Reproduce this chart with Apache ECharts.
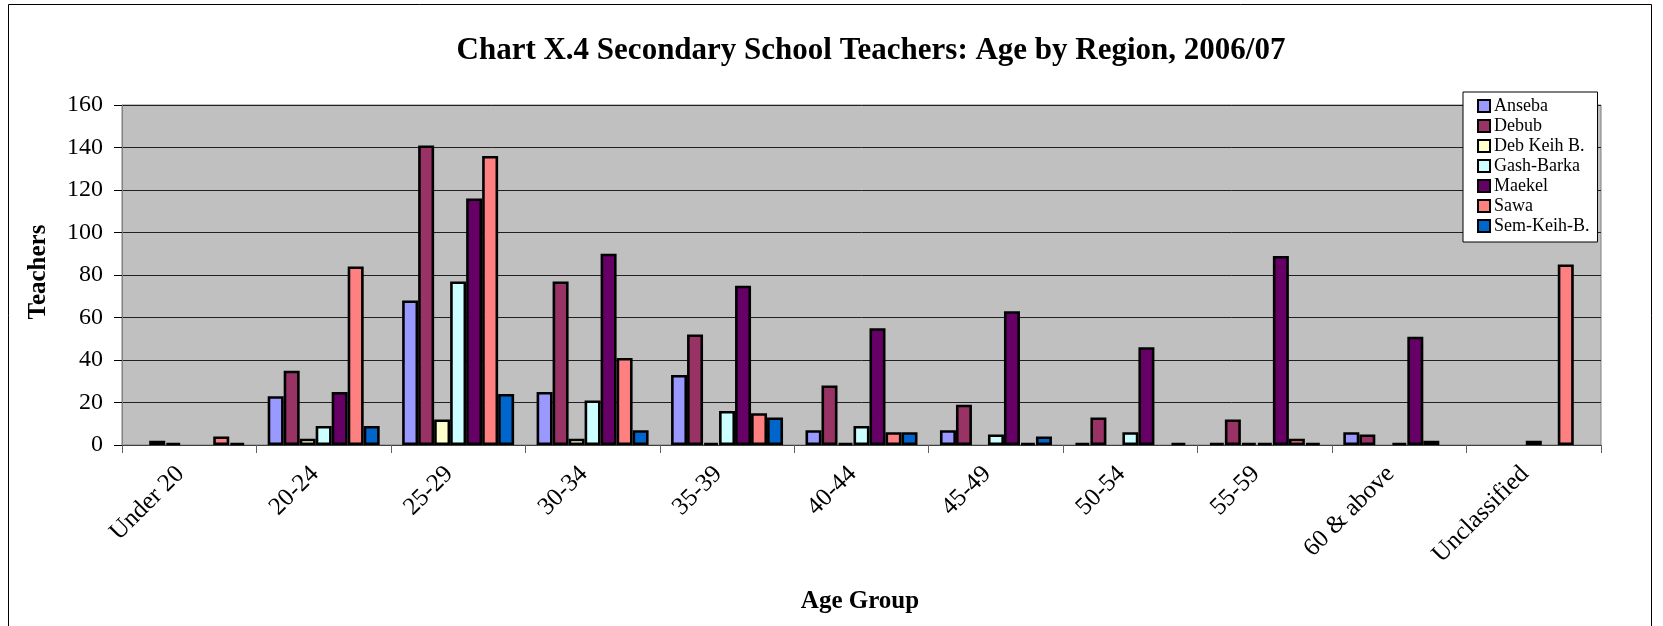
<!DOCTYPE html>
<html>
<head>
<meta charset="utf-8">
<title>Secondary School Teachers: Age by Region, 2006/07</title>
<script src="https://cdn.jsdelivr.net/npm/echarts@6/dist/echarts.min.js"></script>
<style>
  html, body { margin: 0; padding: 0; background: #ffffff; }
  #chart { width: 1663px; height: 626px; }
</style>
</head>
<body>
<div id="chart"></div>
<script>
// Age groups on the category axis
const ageGroups = ['Under 20', '20-24', '25-29', '30-34', '35-39', '40-44', '45-49', '50-54', '55-59', '60 & above', 'Unclassified'];

// Teachers per region for each age group
const anseba    = [0, 23, 68, 25, 33, 7, 7, 1, 1, 6, 0];
const debub     = [2, 35, 141, 77, 52, 28, 19, 13, 12, 5, 0];
const debKeihB  = [1, 3, 12, 3, 1, 1, 0, 0, 1, 0, 0];
const gashBarka = [0, 9, 77, 21, 16, 9, 5, 6, 1, 1, 2];
const maekel    = [0, 25, 116, 90, 75, 55, 63, 46, 89, 51, 0];
const sawa      = [4, 84, 136, 41, 15, 6, 1, 0, 3, 2, 85];
const semKeihB  = [1, 9, 24, 7, 13, 6, 4, 1, 1, 0, 0];

const regionNames = ['Anseba', 'Debub', 'Deb Keih B.', 'Gash-Barka', 'Maekel', 'Sawa', 'Sem-Keih-B.'];
const regionValues = [anseba, debub, debKeihB, gashBarka, maekel, sawa, semKeihB];
const regionColors = ['#9999FF', '#993366', '#FFFFCC', '#CCFFFF', '#660066', '#FF8080', '#0066CC'];

// Value axis ticks
const yMin = 0, yMax = 160, yStep = 20;

const serif = '"Liberation Serif", "Times New Roman", serif';

const chart = echarts.init(document.getElementById('chart'), null, { renderer: 'canvas' });

// Zero counts are left empty so no outlined sliver is drawn on the axis
const series = regionNames.map((name, i) => ({
  name: name,
  type: 'bar',
  data: regionValues[i].map(v => (v === 0 ? '-' : v)),
  barGap: '0%',
  barCategoryGap: '16.7%',
  itemStyle: { color: regionColors[i], borderColor: '#000000', borderWidth: 2.6 },
  emphasis: { disabled: true }
}));

chart.setOption({
  animation: false,
  backgroundColor: '#ffffff',
  textStyle: { fontFamily: serif },
  grid: {
    left: 122, right: 62, top: 105, bottom: 181,
    show: true,
    backgroundColor: '#C0C0C0',
    borderColor: '#808080',
    borderWidth: 1,
    containLabel: false
  },
  legend: {
    left: 1463, top: 92,
    orient: 'vertical',
    backgroundColor: '#ffffff',
    borderColor: '#000000',
    borderWidth: 1,
    padding: [4, 8, 6, 14],
    itemGap: 0,
    itemWidth: 12, itemHeight: 12,
    icon: 'rect',
    itemStyle: { borderColor: '#000000', borderWidth: 2 },
    textStyle: { fontFamily: serif, fontSize: 18, color: '#000000', lineHeight: 20, padding: [0, 0, 0, -1] },
    data: regionNames
  },
  xAxis: {
    type: 'category',
    data: ageGroups,
    axisLine: { lineStyle: { color: '#404040', width: 1 } },
    axisTick: { show: true, length: 8, lineStyle: { color: '#606060' } },
    axisLabel: {
      rotate: 45,
      margin: 34,
      verticalAlign: 'bottom',
      fontFamily: serif,
      fontSize: 25,
      color: '#000000',
      interval: 0
    }
  },
  yAxis: {
    type: 'value',
    min: yMin, max: yMax, interval: yStep,
    axisLine: { show: true, lineStyle: { color: '#808080', width: 1 } },
    axisTick: { show: true, length: 8, lineStyle: { color: '#000000' } },
    axisLabel: { margin: 19, fontFamily: serif, fontSize: 24, color: '#000000' },
    splitLine: { show: true, lineStyle: { color: '#202020', width: 1 } }
  },
  graphic: [
    {
      type: 'rect', silent: true, z: -1,
      shape: { x: 8.5, y: 4.5, width: 1643, height: 700 },
      style: { fill: null, stroke: '#000000', lineWidth: 1 }
    },
    {
      type: 'text', silent: true,
      x: 871, y: 51,
      style: {
        text: 'Chart X.4 Secondary School Teachers: Age by Region, 2006/07',
        font: 'bold 31px ' + serif,
        fill: '#000000', textAlign: 'center', textVerticalAlign: 'middle'
      }
    },
    {
      type: 'text', silent: true,
      x: 39, y: 272, rotation: Math.PI / 2,
      style: {
        text: 'Teachers',
        font: 'bold 25px ' + serif,
        fill: '#000000', textAlign: 'center', textVerticalAlign: 'middle'
      }
    },
    {
      type: 'text', silent: true,
      x: 860, y: 602,
      style: {
        text: 'Age Group',
        font: 'bold 25px ' + serif,
        fill: '#000000', textAlign: 'center', textVerticalAlign: 'middle'
      }
    }
  ],
  series: series
});
</script>
</body>
</html>
